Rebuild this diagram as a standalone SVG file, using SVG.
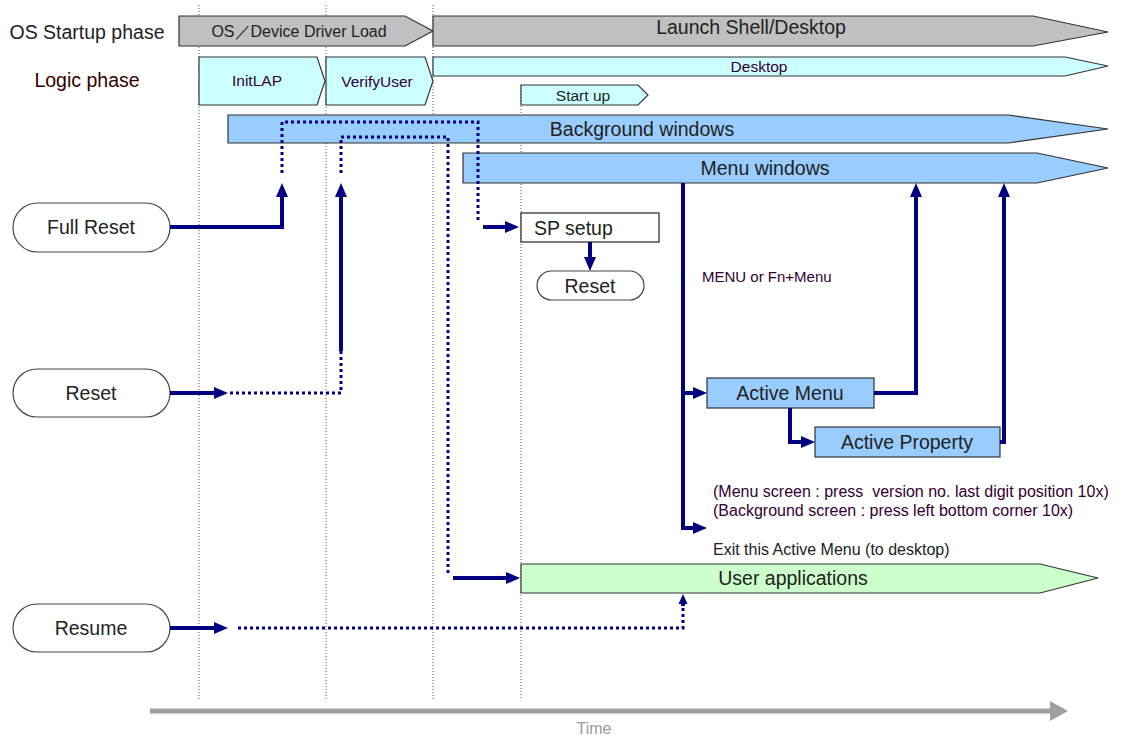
<svg xmlns="http://www.w3.org/2000/svg" width="1127" height="737" viewBox="0 0 1127 737">
<defs>
<style>
text{font-family:"Liberation Sans",Arial,sans-serif;fill:#222;}
.grid{stroke:#555;stroke-width:1;stroke-dasharray:1 2;fill:none;}
.gray{fill:#c0c0c0;stroke:#333;stroke-width:1.2;}
.cyan{fill:#ccffff;stroke:#333;stroke-width:1.2;}
.blue{fill:#99ccff;stroke:#333;stroke-width:1.2;}
.green{fill:#ccffcc;stroke:#333;stroke-width:1.2;}
.pill{fill:#fff;stroke:#444;stroke-width:1.2;}
.box{fill:#fff;stroke:#222;stroke-width:1.2;}
.solid{stroke:#000080;stroke-width:4;fill:none;}
.dot{stroke:#000080;stroke-width:3;stroke-dasharray:3 3;fill:none;}
.l17{font-size:19.5px;}
.l13{font-size:15.5px;}
.note{font-size:16px;fill:#303;}
.mid{text-anchor:middle;dominant-baseline:central;}
</style>
<marker id="ah" markerUnits="userSpaceOnUse" markerWidth="14" markerHeight="12" refX="0" refY="6" orient="auto">
<path d="M0,0 L14,6 L0,12 z" fill="#000080"/>
</marker>
<marker id="ahs" markerUnits="userSpaceOnUse" markerWidth="10" markerHeight="10" refX="0" refY="5" orient="auto">
<path d="M0,0.5 L10,5 L0,9.5 z" fill="#000080"/>
</marker>
<marker id="tah" markerUnits="userSpaceOnUse" markerWidth="18" markerHeight="20" refX="0" refY="10" orient="auto">
<path d="M0,0 L18,10 L0,20 z" fill="#a0a0a0"/>
</marker>
</defs>

<g id="gridlines">
<line class="grid" x1="199" y1="5" x2="199" y2="700"/>
<line class="grid" x1="326" y1="5" x2="326" y2="700"/>
<line class="grid" x1="433" y1="5" x2="433" y2="700"/>
<line class="grid" x1="521" y1="85" x2="521" y2="700"/>
</g>

<g id="phase-labels">
<text class="l17" x="87" y="32" text-anchor="middle" dominant-baseline="central">OS Startup phase</text>
<text class="l17" x="87" y="80" text-anchor="middle" dominant-baseline="central" style="fill:#300">Logic phase</text>
</g>

<g id="os-load">
<polygon class="gray" points="179,16 405,16 433,31 405,46 179,46"/>
<text class="mid" x="299" y="31" style="font-size:16px">OS／Device Driver Load</text>
</g>
<g id="launch-shell">
<polygon class="gray" points="433,16 1033,16 1108,32 1033,46 433,46"/>
<text class="l17 mid" x="751" y="27">Launch Shell/Desktop</text>
</g>

<g id="initlap">
<polygon class="cyan" points="199,57 317,57 325,81 317,105 199,105"/>
<text class="l13 mid" x="257" y="80" style="fill:#303">InitLAP</text>
</g>
<g id="verifyuser">
<polygon class="cyan" points="326,57 425,57 433,81 425,105 326,105"/>
<text class="l13 mid" x="377" y="81" style="fill:#303">VerifyUser</text>
</g>
<g id="desktop">
<polygon class="cyan" points="433,57 1065,57 1108,66 1065,76 433,76"/>
<text class="l13 mid" x="759" y="66" style="fill:#303">Desktop</text>
</g>
<g id="startup">
<polygon class="cyan" points="521,85 638,85 648,95 638,105 521,105"/>
<text class="l13 mid" x="583" y="95">Start up</text>
</g>

<g id="background-windows">
<polygon class="blue" points="228,115 1008,115 1108,129 1008,143 228,143"/>
<text class="l17 mid" x="642" y="129">Background windows</text>
</g>
<g id="menu-windows">
<polygon class="blue" points="463,153 1037,153 1108,168 1037,183 463,183"/>
<text class="l17 mid" x="765" y="168">Menu windows</text>
</g>

<g id="full-reset">
<rect class="pill" x="13" y="203" width="157" height="49" rx="24.5"/>
<text class="l17 mid" x="91" y="227">Full Reset</text>
</g>
<g id="reset">
<rect class="pill" x="13" y="369" width="157" height="48" rx="24"/>
<text class="l17 mid" x="91" y="393">Reset</text>
</g>
<g id="resume">
<rect class="pill" x="13" y="604" width="157" height="48" rx="24"/>
<text class="l17 mid" x="91" y="628">Resume</text>
</g>

<g id="sp-setup">
<rect class="box" x="521" y="213" width="138" height="29"/>
<text class="l17" x="534" y="228" dominant-baseline="central">SP setup</text>
</g>
<g id="sp-reset">
<rect class="pill" x="537" y="271" width="107" height="29" rx="14.5"/>
<text class="l17 mid" x="590" y="286">Reset</text>
</g>

<g id="active-menu">
<rect class="blue" x="707" y="378" width="167" height="30"/>
<text class="l17 mid" x="790" y="393">Active Menu</text>
</g>
<g id="active-property">
<rect class="blue" x="815" y="427" width="185" height="30"/>
<text class="l17 mid" x="907" y="442">Active Property</text>
</g>

<g id="user-applications">
<polygon class="green" points="521,564 1040,564 1098,578 1040,593 521,593"/>
<text class="l17 mid" x="793" y="578">User applications</text>
</g>

<g id="connectors">
<path class="solid" d="M170,227 H282 V197" marker-end="url(#ah)"/>
<path class="dot" d="M282,173 V122 H478 V222"/>
<path class="solid" d="M483,227 H505" marker-end="url(#ah)"/>
<path class="dot" d="M341,173 V137 H448 V573"/>
<path class="solid" d="M453,578 H506" marker-end="url(#ah)"/>
<path class="solid" d="M170,393 H214" marker-end="url(#ah)"/>
<path class="dot" d="M230,393 H341 V350"/>
<path class="solid" d="M341,351 V197" marker-end="url(#ah)"/>
<path class="solid" d="M590,242 V257" marker-end="url(#ah)"/>
<path class="solid" d="M683,183 V528 H693" marker-end="url(#ah)"/>
<path class="solid" d="M683,393 H693" marker-end="url(#ah)"/>
<path class="solid" d="M874,393 H916 V197" marker-end="url(#ah)"/>
<path class="solid" d="M790,408 V442 H801" marker-end="url(#ah)"/>
<path class="solid" d="M1000,442 H1004 V197" marker-end="url(#ah)"/>
<path class="solid" d="M170,628 H214" marker-end="url(#ah)"/>
<path class="dot" d="M238,628 H683 V604"/>
<path class="solid" d="M683,606 V604" stroke-width="3" marker-end="url(#ahs)"/>
</g>

<g id="notes">
<text class="note" x="702" y="276" dominant-baseline="central" style="font-size:15px">MENU or Fn+Menu</text>
<text class="note" x="713" y="491" dominant-baseline="central" xml:space="preserve">(Menu screen : press  version no. last digit position 10x)</text>
<text class="note" x="713" y="510" dominant-baseline="central">(Background screen : press left bottom corner 10x)</text>
<text class="note" x="713" y="549" dominant-baseline="central" style="fill:#222">Exit this Active Menu (to desktop)</text>
</g>

<g id="time-axis">
<line x1="150" y1="711" x2="1050" y2="711" stroke="#a0a0a0" stroke-width="5" marker-end="url(#tah)"/>
<text class="mid" x="594" y="728" style="fill:#999;font-size:16px">Time</text>
</g>
</svg>
